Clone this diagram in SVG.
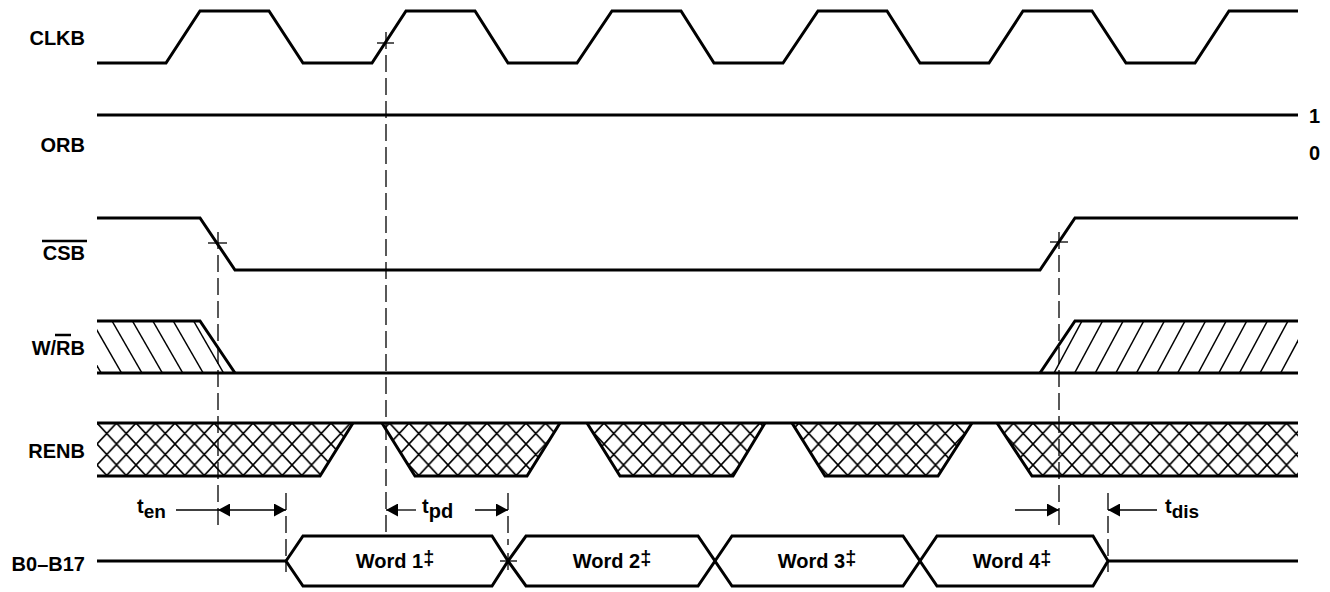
<svg xmlns="http://www.w3.org/2000/svg" width="1330" height="592" viewBox="0 0 1330 592">
<style>
  .sig{fill:none;stroke:#000;stroke-width:3;stroke-linejoin:miter;stroke-linecap:butt}
  .thin{fill:none;stroke:#000;stroke-width:1.3}
  .dash{fill:none;stroke:#000;stroke-width:1.3;stroke-dasharray:17 6}
  .lbl{font-family:"Liberation Sans",Arial,sans-serif;font-weight:bold;font-size:20px;fill:#000}
  .hatch{stroke:#000;stroke-width:1.5}
</style>
<defs>
  <pattern id="xh" patternUnits="userSpaceOnUse" x="97" y="423" width="19.5" height="21">
    <path d="M0,0 L19.5,21 M19.5,0 L0,21" stroke="#000" stroke-width="1.6" fill="none"/>
  </pattern>
  <clipPath id="wrL"><polygon points="97,321 200,321 235,373 97,373"/></clipPath>
  <clipPath id="wrR"><polygon points="1040,373 1075,321 1298,321 1298,373"/></clipPath>
  <marker id="ah" viewBox="0 0 12 13" refX="12" refY="6.5" markerWidth="12" markerHeight="13" markerUnits="userSpaceOnUse" orient="auto">
    <polygon points="0,0 12,6.5 0,13" fill="#000"/>
  </marker>
</defs>

<g id="CLKB">
  <text class="lbl" x="85" y="45" text-anchor="end">CLKB</text>
  <path class="sig" d="M97,63 L166,63 L200,11 L269,11 L303,63 L372,63 L406,11 L475,11 L508,63 L577,63 L612,11 L681,11 L714,63 L783,63 L818,11 L887,11 L920,63 L989,63 L1023,11 L1092,11 L1126,63 L1195,63 L1229,11 L1298,11"/>
</g>

<g id="ORB">
  <text class="lbl" x="85" y="152" text-anchor="end">ORB</text>
  <path class="sig" d="M97,115 L1298,115"/>
  <text class="lbl" x="1309" y="123">1</text>
  <text class="lbl" x="1309" y="160">0</text>
</g>

<g id="CSB">
  <text class="lbl" x="85" y="260" text-anchor="end">CSB</text>
  <line x1="42" y1="241" x2="87" y2="241" stroke="#000" stroke-width="2.5"/>
  <path class="sig" d="M97,218 L200,218 L235,270 L1040,270 L1075,218 L1298,218"/>
</g>

<g id="WRB">
  <text class="lbl" x="85" y="355" text-anchor="end">W/RB</text>
  <line x1="55" y1="335" x2="71" y2="335" stroke="#000" stroke-width="2.5"/>
  <g clip-path="url(#wrL)" class="hatch">
    <line x1="50.8" y1="321" x2="80.8" y2="373"/>
    <line x1="71.2" y1="321" x2="101.2" y2="373"/>
    <line x1="91.6" y1="321" x2="121.6" y2="373"/>
    <line x1="112" y1="321" x2="142" y2="373"/>
    <line x1="132.4" y1="321" x2="162.4" y2="373"/>
    <line x1="152.8" y1="321" x2="182.8" y2="373"/>
    <line x1="173.2" y1="321" x2="203.2" y2="373"/>
    <line x1="193.6" y1="321" x2="223.6" y2="373"/>
    <line x1="214" y1="321" x2="244" y2="373"/>
  </g>
  <g clip-path="url(#wrR)" class="hatch">
    <line x1="1040.8" y1="321" x2="1012.8" y2="373"/>
    <line x1="1061.4" y1="321" x2="1033.4" y2="373"/>
    <line x1="1082" y1="321" x2="1054" y2="373"/>
    <line x1="1102.6" y1="321" x2="1074.6" y2="373"/>
    <line x1="1123.2" y1="321" x2="1095.2" y2="373"/>
    <line x1="1143.8" y1="321" x2="1115.8" y2="373"/>
    <line x1="1164.4" y1="321" x2="1136.4" y2="373"/>
    <line x1="1185" y1="321" x2="1157" y2="373"/>
    <line x1="1205.6" y1="321" x2="1177.6" y2="373"/>
    <line x1="1226.2" y1="321" x2="1198.2" y2="373"/>
    <line x1="1246.8" y1="321" x2="1218.8" y2="373"/>
    <line x1="1267.4" y1="321" x2="1239.4" y2="373"/>
    <line x1="1288" y1="321" x2="1260" y2="373"/>
    <line x1="1308.6" y1="321" x2="1280.6" y2="373"/>
    <line x1="1329.2" y1="321" x2="1301.2" y2="373"/>
  </g>
  <path class="sig" d="M97,321 L200,321 L235,373"/>
  <path class="sig" d="M97,373 L1298,373"/>
  <path class="sig" d="M1040,373 L1075,321 L1298,321"/>
</g>

<g id="RENB">
  <text class="lbl" x="85" y="458" text-anchor="end">RENB</text>
  <g fill="url(#xh)" stroke="none">
    <polygon points="97,423 353,423 320,476 97,476"/>
    <polygon points="382,423 560,423 527,476 415,476"/>
    <polygon points="587,423 765,423 733,476 620,476"/>
    <polygon points="792,423 972,423 938,476 825,476"/>
    <polygon points="997,423 1298,423 1298,476 1032,476"/>
  </g>
  <path class="sig" d="M97,423 L1298,423"/>
  <path class="sig" d="M353,423 L320,476 L97,476"/>
  <path class="sig" d="M382,423 L415,476 L527,476 L560,423"/>
  <path class="sig" d="M587,423 L620,476 L733,476 L765,423"/>
  <path class="sig" d="M792,423 L825,476 L938,476 L972,423"/>
  <path class="sig" d="M997,423 L1032,476 L1298,476"/>
</g>

<g id="B0-B17">
  <text class="lbl" x="85" y="571" text-anchor="end">B0–B17</text>
  <path class="sig" d="M97,561 L286,561"/>
  <path class="sig" d="M1108,561 L1298,561"/>
  <g id="word1">
    <polygon class="sig" points="286,561 303,536 492,536 508,561 492,586 303,586"/>
    <text class="lbl" x="395" y="568" text-anchor="middle">Word 1<tspan dy="-3">‡</tspan></text>
  </g>
  <g id="word2">
    <polygon class="sig" points="508,561 526,536 698,536 715,561 698,586 526,586"/>
    <text class="lbl" x="612" y="568" text-anchor="middle">Word 2<tspan dy="-3">‡</tspan></text>
  </g>
  <g id="word3">
    <polygon class="sig" points="715,561 732,536 903,536 920,561 903,586 732,586"/>
    <text class="lbl" x="817" y="568" text-anchor="middle">Word 3<tspan dy="-3">‡</tspan></text>
  </g>
  <g id="word4">
    <polygon class="sig" points="920,561 937,536 1093,536 1108,561 1093,586 937,586"/>
    <text class="lbl" x="1012" y="568" text-anchor="middle">Word 4<tspan dy="-3">‡</tspan></text>
  </g>
</g>

<g id="connectors">
  <line class="dash" x1="386" y1="32" x2="386" y2="532"/>
  <line class="thin" x1="377" y1="43" x2="394" y2="43"/>
  <line class="dash" x1="218" y1="232" x2="218" y2="525"/>
  <line class="thin" x1="208" y1="243" x2="227" y2="243"/>
  <line class="dash" x1="1059" y1="232" x2="1059" y2="525"/>
  <line class="thin" x1="1050" y1="242" x2="1068" y2="242"/>
  <line class="dash" x1="286" y1="493" x2="286" y2="572"/>
  <line class="dash" x1="508" y1="493" x2="508" y2="545"/>
  <line class="thin" x1="500" y1="561" x2="517" y2="561"/>
  <line class="thin" x1="508" y1="553" x2="508" y2="570"/>
  <line class="dash" x1="1108" y1="493" x2="1108" y2="572"/>
  <line class="thin" x1="176" y1="510" x2="218" y2="510"/>
  <line class="thin" x1="252" y1="510" x2="218" y2="510" marker-end="url(#ah)"/>
  <line class="thin" x1="252" y1="510" x2="286" y2="510" marker-end="url(#ah)"/>
  <text class="lbl" x="137" y="513">t<tspan dy="5" font-size="19">en</tspan></text>
  <line class="thin" x1="416" y1="510" x2="386" y2="510" marker-end="url(#ah)"/>
  <line class="thin" x1="475" y1="510" x2="508" y2="510" marker-end="url(#ah)"/>
  <text class="lbl" x="422" y="513">t<tspan dy="5" font-size="20">pd</tspan></text>
  <line class="thin" x1="1015" y1="510" x2="1059" y2="510" marker-end="url(#ah)"/>
  <line class="thin" x1="1157" y1="510" x2="1108" y2="510" marker-end="url(#ah)"/>
  <text class="lbl" x="1165" y="513">t<tspan dy="5" font-size="19">dis</tspan></text>
</g>
</svg>
